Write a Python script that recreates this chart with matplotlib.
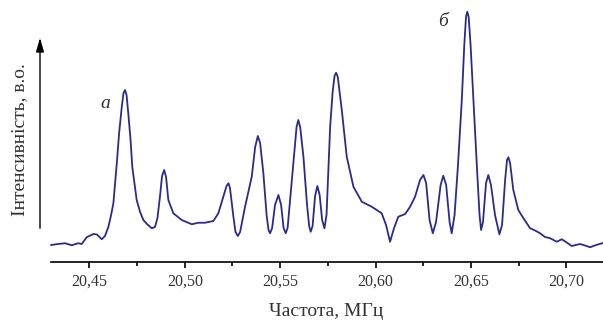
import matplotlib
matplotlib.use("Agg")
import matplotlib.pyplot as plt
from matplotlib.ticker import FixedLocator, FuncFormatter

plt.rcParams['font.family'] = ['Liberation Serif', 'DejaVu Serif']

# spectrum: frequency (MHz), intensity (a.u.)
freq = [20.4300, 20.4336, 20.4373, 20.4408, 20.4441, 20.4460, 20.4486, 20.4521, 20.4540, 20.4565,
        20.4582, 20.4600, 20.4614, 20.4626, 20.4644, 20.4656, 20.4670, 20.4679, 20.4687, 20.4695,
        20.4704, 20.4716, 20.4725, 20.4748, 20.4766, 20.4783, 20.4802, 20.4827, 20.4844, 20.4857,
        20.4871, 20.4881, 20.4892, 20.4902, 20.4914, 20.4940, 20.4984, 20.5037, 20.5071, 20.5106,
        20.5150, 20.5176, 20.5202, 20.5219, 20.5229, 20.5237, 20.5255, 20.5266, 20.5278, 20.5290,
        20.5316, 20.5351, 20.5369, 20.5383, 20.5395, 20.5412, 20.5429, 20.5439, 20.5447, 20.5458,
        20.5473, 20.5491, 20.5505, 20.5518, 20.5529, 20.5539, 20.5552, 20.5574, 20.5586, 20.5595,
        20.5605, 20.5622, 20.5641, 20.5652, 20.5660, 20.5670, 20.5683, 20.5695, 20.5707, 20.5720,
        20.5732, 20.5743, 20.5762, 20.5775, 20.5785, 20.5793, 20.5802, 20.5823, 20.5849, 20.5884,
        20.5928, 20.5980, 20.6032, 20.6055, 20.6076, 20.6097, 20.6119, 20.6155, 20.6181, 20.6207,
        20.6233, 20.6251, 20.6265, 20.6283, 20.6300, 20.6317, 20.6341, 20.6355, 20.6370, 20.6388,
        20.6399, 20.6414, 20.6432, 20.6452, 20.6465, 20.6474, 20.6481, 20.6488, 20.6498, 20.6513,
        20.6532, 20.6545, 20.6553, 20.6563, 20.6579, 20.6591, 20.6605, 20.6626, 20.6649, 20.6663,
        20.6679, 20.6689, 20.6696, 20.6705, 20.6722, 20.6748, 20.6775, 20.6810, 20.6836, 20.6862,
        20.6888, 20.6915, 20.6950, 20.6976, 20.6998, 20.7028, 20.7072, 20.7098, 20.7124, 20.7156,
        20.7192]
intensity = [6.8, 7.2, 7.5, 6.7, 7.5, 7.2, 9.9, 11.2, 11.0, 9.1,
             10.4, 14.1, 18.8, 23.5, 39.6, 51.6, 62.1, 67.6, 68.8, 66.8,
             59.5, 48.8, 38.1, 24.8, 20.0, 16.8, 15.2, 13.5, 14.0, 17.6,
             26.8, 34.4, 36.8, 34.0, 24.8, 19.5, 16.8, 15.1, 15.7, 15.7,
             16.4, 19.5, 26.1, 30.4, 31.5, 29.6, 18.1, 12.0, 10.4, 12.0,
             22.1, 34.1, 46.0, 50.4, 47.6, 35.5, 18.8, 12.8, 11.5, 13.6,
             22.8, 26.8, 22.8, 13.6, 11.5, 13.6, 24.8, 43.5, 54.0, 56.8,
             54.0, 42.1, 22.8, 14.4, 12.1, 14.4, 26.4, 30.4, 26.8, 16.8,
             13.5, 18.8, 54.1, 68.0, 74.4, 75.7, 74.0, 60.8, 42.1, 30.1,
             24.1, 22.1, 19.5, 14.8, 8.1, 13.6, 18.1, 19.2, 22.1, 26.1,
             32.8, 34.8, 31.6, 16.8, 11.5, 16.0, 30.8, 34.5, 30.8, 16.0,
             11.5, 18.8, 38.8, 64.8, 86.8, 98.0, 100.1, 98.0, 86.8, 64.8,
             36.8, 18.8, 12.8, 16.0, 31.6, 34.8, 30.8, 18.8, 11.1, 14.8,
             32.8, 40.8, 41.9, 39.6, 28.8, 20.8, 17.5, 13.5, 12.6, 11.5,
             10.0, 9.5, 8.1, 9.1, 8.0, 6.4, 7.2, 6.6, 5.9, 6.8,
             7.6]

major_ticks = [20.45, 20.50, 20.55, 20.60, 20.65, 20.70]
minor_ticks = [20.475, 20.525, 20.575, 20.625, 20.675]

peak_labels = ['а', 'б']
peak_label_pos = [(20.4582, 63.6), (20.6355, 96.1)]

fig = plt.figure(figsize=(6.03, 3.22), dpi=100)
ax = fig.add_axes([51 / 603, 1 - 262 / 322, 552 / 603, 262 / 322])

ax.plot(freq, intensity, color='#2b2b8c', lw=1.3, clip_on=False)

ax.set_xlim(20.4299, 20.7192)
ax.set_ylim(0, 104.8)

for s in ['top', 'right', 'left']:
    ax.spines[s].set_visible(False)
ax.spines['bottom'].set_linewidth(1.2)
ax.set_yticks([])

ax.xaxis.set_major_locator(FixedLocator(major_ticks))
ax.xaxis.set_minor_locator(FixedLocator(minor_ticks))
ax.xaxis.set_major_formatter(FuncFormatter(lambda v, p: f"{v:.2f}".replace('.', ',')))
ax.tick_params(axis='x', which='major', direction='out', length=4.5, width=1.2,
               labelsize=11.5, labelcolor='#333333', pad=4)
ax.tick_params(axis='x', which='minor', direction='out', length=3, width=1.2)

for lab, (x, y) in zip(peak_labels, peak_label_pos):
    ax.text(x, y, lab, fontsize=14, style='italic', color='#333333', ha='center', va='center')

# y axis arrow
ax.annotate('', xy=(40 / 603, 1 - 35 / 322), xytext=(40 / 603, 1 - 231 / 322),
            xycoords='figure fraction', textcoords='figure fraction',
            arrowprops=dict(arrowstyle='-|>,head_length=0.7,head_width=0.2',
                            color='black', lw=1, mutation_scale=12))

fig.text(326 / 603, 1 - 311 / 322, 'Частота, МГц', fontsize=14, color='#333333',
         ha='center', va='center')
fig.text(20 / 603, 1 - 140 / 322, 'Інтенсивність, в.о.', fontsize=14, color='#333333',
         ha='center', va='center', rotation=90)

fig.savefig('out.png', dpi=100)
